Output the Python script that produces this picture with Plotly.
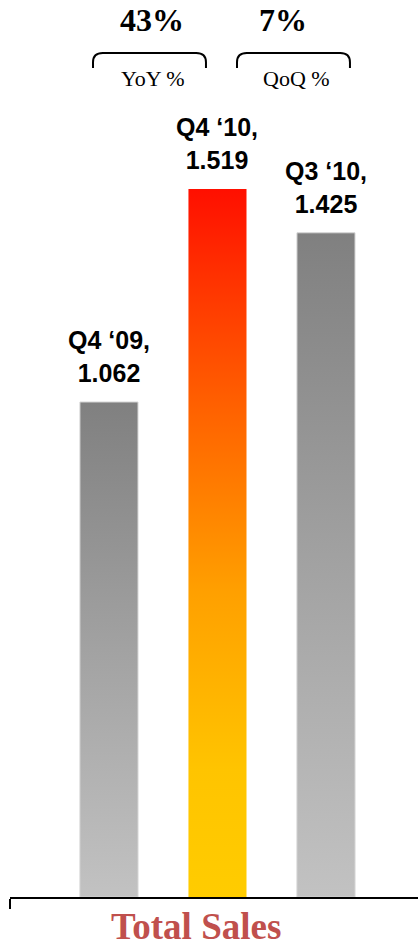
import plotly.graph_objects as go

# Quarterly total sales
quarters = ["Q4 ‘09", "Q4 ‘10", "Q3 ‘10"]
sales = [1.062, 1.519, 1.425]
highlight = [False, True, False]

# Growth call-outs
growth_labels = ["43%", "7%"]
growth_names = ["YoY %", "QoQ %"]

GRAY_SCALE = [[0.0, "#c2c2c2"], [0.5, "#a2a2a2"], [1.0, "#808080"]]
HOT_SCALE = [[0.0, "#ffcc00"], [0.18, "#ffc400"], [0.43, "#ffa000"],
             [0.70, "#ff5f00"], [0.88, "#ff3000"], [1.0, "#ff0f00"]]

BAR_W = 0.535
X_LO, X_HI = -0.912, 2.848
Y_HI = 1.9245

fig = go.Figure()

for i, (q, v, hot) in enumerate(zip(quarters, sales, highlight)):
    x0, x1 = i - BAR_W / 2, i + BAR_W / 2
    fig.add_trace(go.Scatter(
        x=[x0, x1, x1, x0, x0], y=[0, 0, v, v, 0],
        mode="lines", fill="toself",
        line=dict(width=1 if not hot else 0, color="#d4d4d4"),
        fillgradient=dict(type="vertical",
                          colorscale=HOT_SCALE if hot else GRAY_SCALE),
        hoverinfo="skip", showlegend=False,
    ))
    fig.add_annotation(
        x=i, y=v, xref="x", yref="y", showarrow=False,
        text=f"{q},<br>{v:.3f}", yanchor="bottom", yshift=13,
        font=dict(family="Liberation Sans, Arial, sans-serif", size=25,
                  color="#000000", weight="bold"),
    )

# Growth figures with bracket call-outs above the bars
callout_x = [0.396, 1.60]
bracket_span = [(-0.147, 0.894), (1.180, 2.221)]
y_lo, y_top = 1.7786, 1.8108
rx, ry = 0.09, 0.02
for lab, name, cx, (bx0, bx1) in zip(growth_labels, growth_names, callout_x, bracket_span):
    fig.add_annotation(
        x=cx, y=1.881, xref="x", yref="y", showarrow=False,
        text=lab, yanchor="middle",
        font=dict(family="Liberation Serif, Times New Roman, serif", size=32,
                  color="#000000", weight="bold"),
    )
    fig.add_annotation(
        x=(bx0 + bx1) / 2 + 0.03, y=1.7565, xref="x", yref="y", showarrow=False,
        text=name, yanchor="middle",
        font=dict(family="Liberation Serif, Times New Roman, serif", size=22,
                  color="#000000"),
    )
    path = (f"M {bx0},{y_lo} L {bx0},{y_top - ry} Q {bx0},{y_top} {bx0 + rx},{y_top} "
            f"L {bx1 - rx},{y_top} Q {bx1},{y_top} {bx1},{y_top - ry} L {bx1},{y_lo}")
    fig.add_shape(type="path", path=path, xref="x", yref="y",
                  line=dict(color="#000000", width=2))

fig.add_annotation(
    x=0.8, y=0, xref="x", yref="paper", showarrow=False,
    text="<b>Total Sales</b>", yanchor="top", yshift=-7,
    font=dict(family="Liberation Serif, Times New Roman, serif", size=37,
              color="#c0504d"),
)

fig.update_xaxes(
    range=[X_LO, X_HI], showline=True, linecolor="#000000", linewidth=2,
    ticks="outside", tickvals=[X_LO], ticklen=10, tickwidth=2, tickcolor="#000000",
    showticklabels=False, showgrid=False, zeroline=False, fixedrange=True,
)
fig.update_yaxes(range=[0, Y_HI], visible=False, fixedrange=True)

fig.update_layout(
    width=418, height=951,
    margin=dict(l=10, r=0, t=0, b=54),
    plot_bgcolor="#ffffff", paper_bgcolor="#ffffff",
    showlegend=False,
)

fig.write_html("out.html", config={"displayModeBar": False})
